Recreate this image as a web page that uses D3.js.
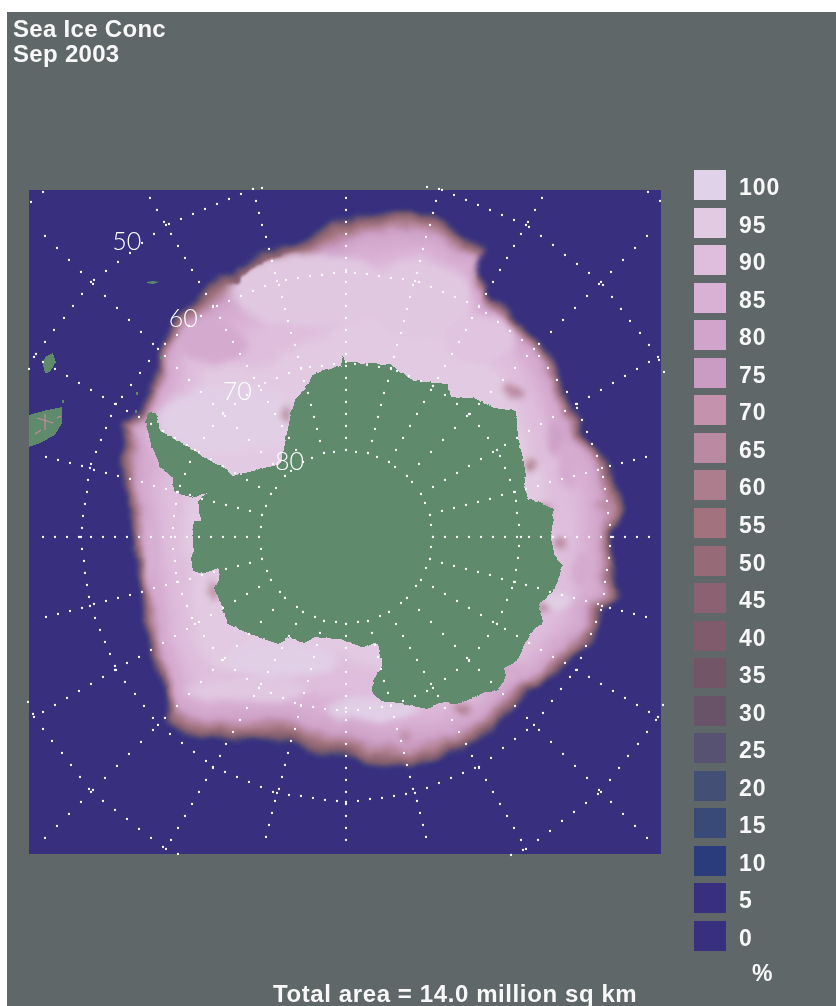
<!DOCTYPE html>
<html>
<head>
<meta charset="utf-8">
<script src="https://cdn.jsdelivr.net/npm/d3@7"></script>
<style>
  html, body { margin: 0; padding: 0; background: #fff; }
  svg { display: block; filter: blur(0.35px); }
  text { font-family: "Liberation Sans", sans-serif; fill: #f8f8f8; }
</style>
</head>
<body>
<div id="chart"></div>
<script>
const WIDTH = 836
const HEIGHT = 1006

// Legend
const concLevels = [100, 95, 90, 85, 80, 75, 70, 65, 60, 55, 50, 45, 40, 35, 30, 25, 20, 15, 10, 5, 0]
const concColors = ["#e0d2e8", "#e2cbe2", "#dfbddc", "#d9b1d4", "#d1a5cb", "#ca9cc3", "#c592ae", "#ba8aa2",
  "#ac7d8c", "#a2737f", "#966a77", "#8b6271", "#7f5b6b", "#735568", "#695368", "#575272", "#444f75",
  "#394a78", "#2a3c7c", "#392f7f", "#38307f"]

// Everything below is in cells of the 25 km polar grid (316 x 332), column then row
const iceEdge = [[51.5,165],[49.5,155],[46,145],[45,136.5],[47.5,126.5],[46.5,116.5],[57,110],[59.5,98.5],[64,88.5],
  [68,75],[72,65],[81.5,56],[89,48.5],[95.5,42.5],[102,43.5],[104,40],[112,33.5],[120.5,30],[129,26.5],[139,24],
  [145.5,20],[155.5,15],[164,11.5],[177,11.5],[190.5,10.5],[200.5,12.5],[209,16.5],[217,25],[228,29.5],[224.5,36.5],
  [224,41.5],[229.5,48.5],[229,52.5],[239,59],[242,63.5],[254,74],[260.5,84],[267,98.5],[270.5,108.5],[275.5,113.5],
  [276.5,121.5],[284,129],[291.5,138.5],[294,150],[298,160],[291.5,171.5],[292,186.5],[292,195],[295.5,204],[287,210],
  [284.5,220],[280.5,226.5],[270.5,235],[264,243.5],[250.5,250],[242,260],[235.5,266.5],[227,273.5],[217,280],
  [204,283.5],[192,288.5],[180.5,287.5],[169.5,287.5],[162,284],[155.5,282.5],[140.5,281],[129,276],[114,274],
  [99,275],[85.5,274],[75.5,271],[69.5,265],[68,250],[64,240],[59,226.5],[57,208.5],[55.5,196.5],[52,180]]

// width of the edge band at each iceEdge point, cells from open water to about 80 %
const iceBand = [6,7,8,9,9,6,6,6,6,6,7,9,11,12,12,12,12,12,12,12,
  12,12,12,11,10,9,8,7,7,7,6,6,6,6,6,6,6,6,6,7,
  7,7,8,9,10,7,7,7,9,9,8,8,8,8,8,8,8,9,10,10,
  11,12,12,12,12,12,12,12,12,12,10,8,6,6,6,6,6,6]

const coast = [[59,111],[63,111.5],[64,115],[65.5,120],[72,124],[82,130],[90.5,135],[97,138.5],[101.5,142.5],[112,140],
  [125.5,136.5],[128,123.5],[130.5,111.5],[133,103.5],[138,98.5],[142,91.5],[155.5,87.5],[156.5,82.5],[159,86],
  [169,86.5],[180.5,87],[184,90],[192,95],[209,96.5],[210.5,103.5],[222,103.5],[232,108.5],[243,110],[244,123.5],
  [246.5,133.5],[248,142.5],[247,147.5],[249,153.5],[262,159],[261.5,165],[260.5,173.5],[262,181.5],[266.5,187.5],
  [264,195],[261.5,201],[254.5,206.5],[256.5,216],[250.5,221],[246.5,228.5],[244,235],[237,238.5],[238,242.5],
  [234,250],[228,251],[214,256.5],[205.5,256],[199,259],[185.5,256.5],[175.5,255],[171.5,251.5],[172,245],
  [176.5,236.5],[174,226.5],[172,226],[167,228.5],[155.5,224],[142,223.5],[137,226],[130.5,223.5],[124,226.5],
  [112,222.5],[99,216.5],[96.5,209],[92,198.5],[95.5,194],[94,188.5],[87,191.5],[81.5,190],[80.5,183.5],[82,180],
  [81.5,173.5],[82,165],[85.5,165],[84,155],[89,151.5],[80.5,153.5],[72,150],[71.5,143.5],[65.5,138.5],[64,135],
  [60.5,126.5],[59,120],[58,115]]

const southAmerica = [[0,112.5],[9,110],[16.5,108.5],[16.5,116.5],[13,122.5],[5.5,126.5],[0,128.5]]
const falklands = [[8,83.5],[12,81.5],[13.5,86],[10.5,91],[8,91.5],[7,87.5]]
const southGeorgia = [[59,46],[62,45.5],[65,46],[62,47],[59,46.5]]
const smallIslands = [[16.5,105],[53,110],[53.5,101],[65.5,83]]
const shelfStreaks = [[[4,114],[12,116.5]],[[8,112],[8,120]],[[3,122],[6,120]],[[14,114],[16,113]]]

// column, row, half width, half height, concentration
const icePatches = [[92,76,18,10,82],[140,50,40,18,94],[100.5,115,36,16,98],[195,55,26,20,94],[225,75,18,12,93],
  [110,250,30,6,94],[127,235,28,9,98],[172,260,22,6,98],[264,205,8,4,97],
  [243,101,5,3,64],[250.5,137.5,3,3,60],[287,158,5,2,64],[257,158.5,4,2,62],[264,125,4,8,78],[265.5,177.5,3,3,62],
  [257,208.5,4,2,62],[217,259,4,3,62],[189,273.5,4,2,64],[92,200,2,4,62],[129.5,111.5,2,4,60],
  [276,190,5,10,82],[270,140,4,10,82],[62,180,4,16,84],[240,240,8,4,82]]

// Concentration of each ring and how deep it sits, in band widths from the edge
const edgeConc = [15, 25, 35, 45, 55, 65, 75, 80]
const edgeDepth = [0, 0.05, 0.11, 0.2, 0.38, 0.6, 0.85, 1.05]
const innerConc = [85, 90, 95]
const innerDepth = [1.5, 2.4, 4.2]

const latCircles = [-80, -70, -60, -50, -40]
const latLabels = [["50", -50], ["60", -60], ["70", -70], ["80", -80]]
const LABEL_LON = -36.5

const x = d3.scaleLinear().domain([0, 316]).range([29, 661])
const y = d3.scaleLinear().domain([0, 332]).range([190, 854])
const POLE = [158.5, 173.5]
const concColor = d3.scaleLinear().domain(concLevels).range(concColors)
const legendY = d3.scaleLinear().domain([0, concLevels.length - 1]).range([170, 921])

const projection = d3.geoStereographic()
  .rotate([0, 90])
  .scale(990)
  .translate([x(POLE[0]), y(POLE[1])])

const svg = d3.select("#chart").append("svg")
  .attr("width", WIDTH)
  .attr("height", HEIGHT)

svg.append("rect")
  .attr("x", 7).attr("y", 12)
  .attr("width", WIDTH - 7).attr("height", HEIGHT - 12)
  .attr("fill", "#5f6769")

const defs = svg.append("defs")
defs.append("filter").attr("id", "edgeBlur")
  .attr("x", "-5%").attr("y", "-5%").attr("width", "110%").attr("height", "110%")
  .append("feGaussianBlur").attr("stdDeviation", 2)
defs.append("filter").attr("id", "innerBlur")
  .attr("x", "-10%").attr("y", "-10%").attr("width", "120%").attr("height", "120%")
  .append("feGaussianBlur").attr("stdDeviation", 6)
defs.append("filter").attr("id", "patchBlur")
  .attr("x", "-60%").attr("y", "-60%").attr("width", "220%").attr("height", "220%")
  .append("feGaussianBlur").attr("stdDeviation", 3.5)

// rough up the ice so the bands do not look drawn
const rough = defs.append("filter").attr("id", "rough")
  .attr("x", "-5%").attr("y", "-5%").attr("width", "110%").attr("height", "110%")
rough.append("feTurbulence")
  .attr("type", "fractalNoise")
  .attr("baseFrequency", 0.035)
  .attr("numOctaves", 2)
  .attr("seed", 7)
  .attr("result", "noise")
rough.append("feDisplacementMap")
  .attr("in", "SourceGraphic")
  .attr("in2", "noise")
  .attr("scale", 10)
  .attr("xChannelSelector", "R")
  .attr("yChannelSelector", "G")
  .attr("result", "moved")
rough.append("feGaussianBlur")
  .attr("in", "moved")
  .attr("stdDeviation", 1)

const jag = defs.append("filter").attr("id", "jag")
  .attr("x", "-2%").attr("y", "-2%").attr("width", "104%").attr("height", "104%")
jag.append("feTurbulence")
  .attr("type", "turbulence")
  .attr("baseFrequency", 0.12)
  .attr("numOctaves", 2)
  .attr("seed", 3)
  .attr("result", "noise")
jag.append("feDisplacementMap")
  .attr("in", "SourceGraphic")
  .attr("in2", "noise")
  .attr("scale", 3)
  .attr("xChannelSelector", "R")
  .attr("yChannelSelector", "G")

defs.append("clipPath").attr("id", "panelClip")
  .append("rect")
  .attr("x", x(0)).attr("y", y(0))
  .attr("width", x(316) - x(0)).attr("height", y(332) - y(0))
defs.append("clipPath").attr("id", "iceClip")
  .append("path").attr("d", ringPath(0.4))

function toScreen(cell) {
  return [x(cell[0]), y(cell[1])]
}

// edge ring pulled towards the pole, depth counted in band widths
function ringPath(depth) {
  const pts = iceEdge.map((p, i) => {
    const dx = p[0] - POLE[0]
    const dy = p[1] - POLE[1]
    const r = Math.hypot(dx, dy)
    const inset = Math.min(iceBand[i] * depth, r - 1)
    return toScreen([p[0] - dx / r * inset, p[1] - dy / r * inset])
  })
  return d3.line().curve(d3.curveLinearClosed)(pts)
}

const closedPath = pts => "M" + pts.map(toScreen).join("L") + "Z"

const map = svg.append("g").attr("clip-path", "url(#panelClip)")

map.append("rect")
  .attr("x", x(0)).attr("y", y(0))
  .attr("width", x(316) - x(0)).attr("height", y(332) - y(0))
  .attr("fill", concColor(0))

// Ice, outside in
const ice = map.append("g").attr("filter", "url(#rough)")

ice.append("g").attr("filter", "url(#edgeBlur)")
  .selectAll("path")
  .data(edgeConc)
  .enter().append("path")
    .attr("d", (d, i) => ringPath(edgeDepth[i]))
    .attr("fill", d => concColor(d))

ice.append("g").attr("clip-path", "url(#iceClip)")
  .append("g").attr("filter", "url(#innerBlur)")
  .selectAll("path")
  .data(innerConc)
  .enter().append("path")
    .attr("d", (d, i) => ringPath(innerDepth[i]))
    .attr("fill", d => concColor(d))

ice.append("g").attr("clip-path", "url(#iceClip)")
  .append("g").attr("filter", "url(#patchBlur)")
  .selectAll("ellipse")
  .data(icePatches)
  .enter().append("ellipse")
    .attr("cx", d => x(d[0]))
    .attr("cy", d => y(d[1]))
    .attr("rx", d => x(d[2]) - x(0))
    .attr("ry", d => y(d[3]) - y(0))
    .attr("fill", d => concColor(d[4]))

// Land
const land = map.append("g").attr("fill", "#5f8a6c").attr("shape-rendering", "crispEdges")
land.append("path").attr("d", closedPath(coast)).attr("filter", "url(#jag)")
land.append("path").attr("d", closedPath(southAmerica))
land.append("path").attr("d", closedPath(falklands))
land.append("path").attr("d", closedPath(southGeorgia)).attr("shape-rendering", "auto")
land.selectAll("rect")
  .data(smallIslands)
  .enter().append("rect")
    .attr("x", d => x(d[0]))
    .attr("y", d => y(d[1]))
    .attr("width", 2)
    .attr("height", 3)

map.append("g")
  .attr("stroke", "#c58aa0")
  .attr("stroke-width", 1.2)
  .selectAll("line")
  .data(shelfStreaks)
  .enter().append("line")
    .attr("x1", d => x(d[0][0])).attr("y1", d => y(d[0][1]))
    .attr("x2", d => x(d[1][0])).attr("y2", d => y(d[1][1]))

// Graticule: dots 12 px apart along the longer axis of each segment
function dotsAlong(a, b) {
  const dx = b[0] - a[0]
  const dy = b[1] - a[1]
  const n = Math.floor(Math.max(Math.abs(dx), Math.abs(dy)) / 12)
  const step = 12 / Math.max(Math.abs(dx), Math.abs(dy))
  return d3.range(n + 1).map(i => [Math.round(a[0] + dx * step * i), Math.round(a[1] + dy * step * i)])
}

const lons = d3.range(-180, 180, 15)
const pole = projection([0, -90])
let dots = []
lons.forEach(lon => {
  const spoke = dotsAlong(projection([lon, -80]), projection([lon, -20]))
    .filter(d => Math.abs(d[0] - pole[0]) <= 304 && d[1] - pole[1] <= 304 && d[1] - pole[1] >= -340)
  dots = dots.concat(spoke)
  latCircles.forEach(lat => {
    const seg = dotsAlong(projection([lon, lat]), projection([lon - 15, lat]))
      .filter(d => d[0] >= x(0) - 4 && d[0] <= x(316) + 5 && d[1] >= y(0) - 3 && d[1] <= y(332) + 3)
    dots = dots.concat(seg)
  })
})

svg.append("g")
  .selectAll("circle")
  .data(dots)
  .enter().append("circle")
    .attr("cx", d => d[0])
    .attr("cy", d => d[1])
    .attr("r", 1.15)
    .attr("fill", "#fff")

svg.append("g")
  .selectAll("text")
  .data(latLabels)
  .enter().append("text")
    .attr("x", d => projection([LABEL_LON, d[1]])[0] - 5)
    .attr("y", d => projection([LABEL_LON, d[1]])[1] + 3)
    .attr("text-anchor", "middle")
    .attr("font-size", "25px")
    .style("font-family", "Lato, sans-serif")
    .style("font-weight", 300)
    .style("fill", "#fff")
    .text(d => d[0])

// Legend
const legendRow = svg.append("g")
  .selectAll("g")
  .data(concLevels)
  .enter().append("g")
    .attr("transform", (d, i) => `translate(0, ${Math.round(legendY(i))})`)

legendRow.append("rect")
  .attr("x", 694)
  .attr("width", 32)
  .attr("height", 30)
  .attr("fill", d => concColor(d))

legendRow.append("text")
  .attr("x", 739)
  .attr("y", 25)
  .attr("font-size", "23px")
  .attr("font-weight", "bold")
  .attr("letter-spacing", "1px")
  .text(d => d)

svg.append("text")
  .attr("x", 752).attr("y", 981)
  .attr("font-size", "23px")
  .attr("font-weight", "bold")
  .text("%")

// Titles
svg.append("text")
  .attr("x", 13).attr("y", 37)
  .attr("font-size", "24px")
  .attr("font-weight", "bold")
  .attr("letter-spacing", "0.3px")
  .text("Sea Ice Conc")
svg.append("text")
  .attr("x", 13).attr("y", 62)
  .attr("font-size", "24px")
  .attr("font-weight", "bold")
  .attr("letter-spacing", "0.3px")
  .text("Sep 2003")
svg.append("text")
  .attr("x", 273).attr("y", 1002)
  .attr("font-size", "24px")
  .attr("font-weight", "bold")
  .attr("letter-spacing", "0.6px")
  .text("Total area = 14.0 million sq km")
</script>
</body>
</html>
